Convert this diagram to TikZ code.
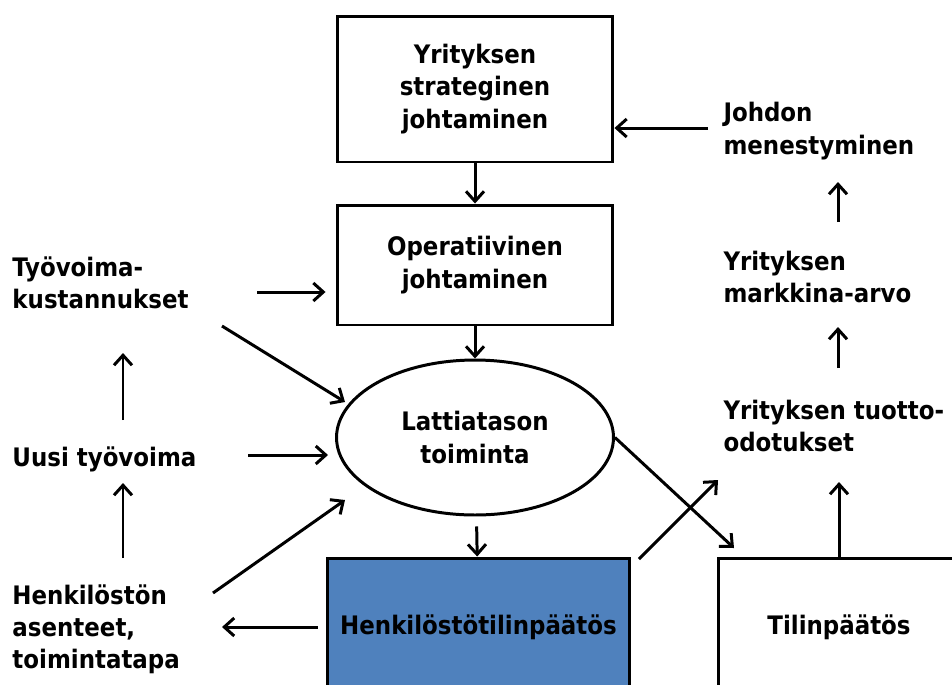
\documentclass[tikz,border=0pt]{standalone}
\usepackage{fontspec}
\setmainfont{DejaVu Sans Condensed}
\usetikzlibrary{arrows.meta, shapes.geometric, positioning}
\definecolor{hblue}{RGB}{79,129,189}

\begin{document}
\begin{tikzpicture}[x=0.02cm, y=-0.02cm, line width=1.7pt,
		every node/.style={font=\bfseries\fontsize{14.5}{18.3}\selectfont},
		box/.style={draw, rectangle, align=center},
		lbl/.style={anchor=west, align=left, inner sep=0pt},
		arr/.style={-{Straight Barb[length=2mm, width=3.6mm]}}]
	\useasboundingbox (0,0) rectangle (952,684);
	\clip (0,0) rectangle (952,684);
	
	\node[box, minimum width=5.52cm, minimum height=2.92cm] (s) at (475,89) {Yrityksen\\strateginen\\johtaminen};
	\node[box, minimum width=5.52cm, minimum height=2.4cm] (o) at (475,265) {Operatiivinen\\johtaminen};
	\node[draw, ellipse, align=center, minimum width=5.54cm, minimum height=3.1cm] (l) at (475,437.5) {Lattiatason\\toiminta};
	\node[box, fill=hblue, minimum width=6.06cm, minimum height=2.76cm] (h) at (478.5,627) {Henkilöstötilinpäätös};
	\node[box, minimum width=4.84cm, minimum height=2.76cm] (t) at (839,627) {Tilinpäätös};
	
	\node[lbl] (k) at (11,283) {Työvoima-\\kustannukset};
	\node[lbl] (u) at (11,459) {Uusi työvoima};
	\node[lbl] (a) at (11,629) {Henkilöstön\\asenteet,\\toimintatapa};
	\node[lbl] (j) at (722,131) {Johdon\\menestyminen};
	\node[lbl] (m) at (722,277) {Yrityksen\\markkina-arvo};
	\node[lbl] (y) at (722,426) {Yrityksen tuotto-\\odotukset};
	
	\coordinate (j0) at (708,128);
	\coordinate (m0) at (838,222);
	\coordinate (m1) at (838,182);
	\coordinate (y0) at (838,368);
	\coordinate (y1) at (838,327);
	\coordinate (y2) at (839,482);
	\coordinate (y3) at (718,480);
	\coordinate (t0) at (734,548);
	\coordinate (h0) at (639,559);
	\coordinate (k0) at (257,292);
	\coordinate (k1) at (222,326);
	\coordinate (k2) at (345,402);
	\coordinate (u0) at (248,455);
	\coordinate (u1) at (328,455);
	\coordinate (a0) at (213,593);
	\coordinate (a1) at (345,500);
	\coordinate (a2) at (222,627);
	\coordinate (v0) at (123,420);
	\coordinate (v1) at (123,353);
	\coordinate (w0) at (123,558);
	\coordinate (w1) at (123,483);
	
	\draw[arr] (s) -- (o);
	\draw[arr] (o) -- (l);
	\draw[arr, shorten <=0.2cm] (l) -- (h);
	\draw[arr] (j0) -- (j0 -| s.east);
	\draw[arr] (m0) -- (m1);
	\draw[arr] (y0) -- (y1);
	\draw[arr] (t.north) -- (y2);
	\draw[arr] (l.east) -- (t0);
	\draw[arr] (h0) -- (y3);
	\draw[arr, shorten >=0.2cm] (k0) -- (k0 -| o.west);
	\draw[arr] (k1) -- (k2);
	\draw[arr] (u0) -- (u1);
	\draw[arr] (a0) -- (a1);
	\draw[arr] (v0) -- (v1);
	\draw[arr] (w0) -- (w1);
	\draw[arr, shorten <=0.16cm] (h.west) -- (a2);
\end{tikzpicture}
\end{document}
